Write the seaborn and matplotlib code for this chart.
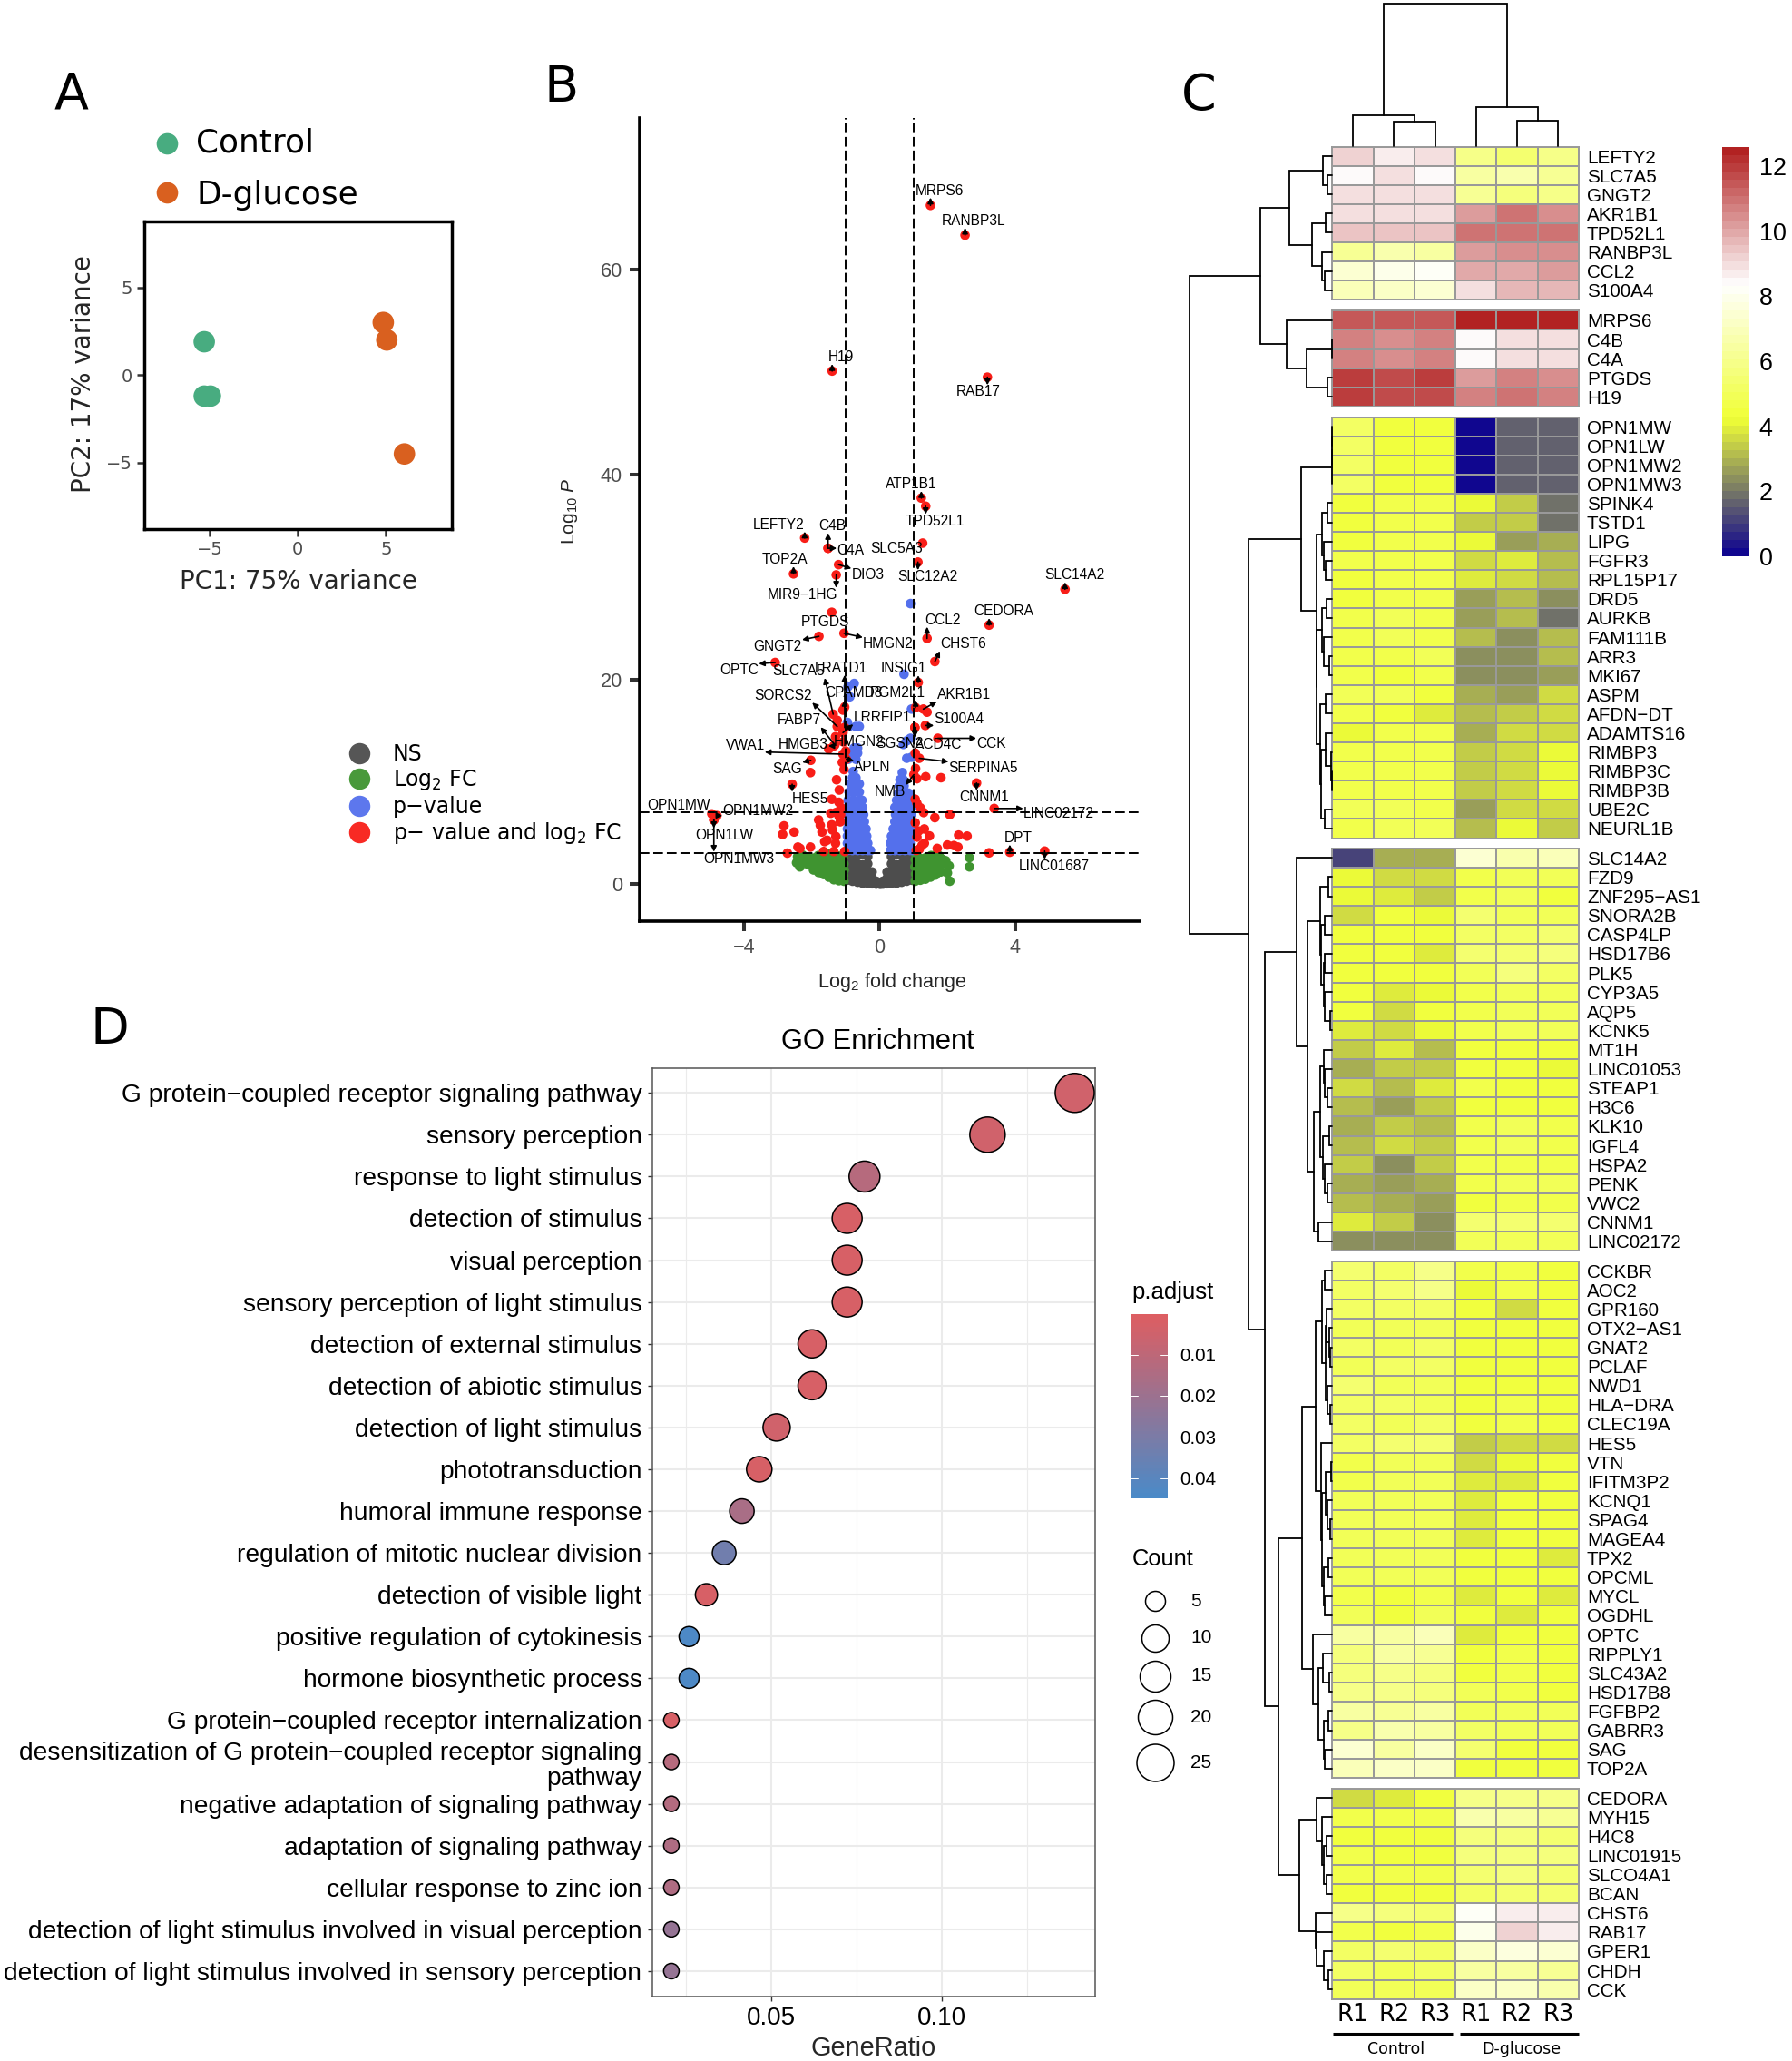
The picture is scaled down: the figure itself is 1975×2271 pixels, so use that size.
import numpy as np
import pandas as pd
import matplotlib
matplotlib.use("Agg")
import matplotlib.pyplot as plt
from matplotlib.colors import LinearSegmentedColormap
import seaborn as sns

W, H = 1975, 2271

# ---- panel A: PCA
pca_pc1 = [-5.3, -5.3, -4.95, 4.85, 5.05, 6.05]
pca_pc2 = [1.9, -1.2, -1.2, 3.0, 2.0, -4.5]
pca_group = ["Control", "Control", "Control", "D-glucose", "D-glucose", "D-glucose"]

# ---- panel B: volcano
label_name = ["MRPS6", "RANBP3L", "H19", "RAB17", "ATP1B1", "TPD52L1", "LEFTY2", "C4B", "C4A", "SLC5A3",
              "SLC12A2", "TOP2A", "DIO3", "MIR9\u22121HG", "SLC14A2", "CEDORA", "PTGDS", "CCL2", "HMGN2", "GNGT2",
              "CHST6", "OPTC", "SLC7A5", "LRATD1", "INSIG1", "SORCS2", "CPAMD8", "PGM2L1", "AKR1B1", "LRRFIP1",
              "FABP7", "S100A4", "VWA1", "HMGB3", "HMGN2", "CCK", "SGSN2", "ACD4C", "SERPINA5", "SAG",
              "APLN", "NMB", "HES5", "CNNM1", "OPN1MW", "OPN1MW2", "LINC02172", "OPN1LW", "DPT", "OPN1MW3",
              "LINC01687"]
label_fc = [1.5, 2.52, -1.4, 3.18, 1.23, 1.36, -2.21, -1.52, -1.52, 1.27,
            1.13, -2.54, -1.21, -1.28, 5.47, 3.23, -1.41, 1.4, -1.05, -1.79,
            1.63, -3.08, -1.37, -1.03, 1.14, -1.25, -1.03, 1.06, 1.29, -1.08,
            -1.32, 1.35, -1.08, -1.35, -1.0, 1.72, 1.04, 1.04, 1.17, -2.03,
            -0.98, 1.01, -2.58, 2.86, -4.95, -4.8, 3.38, -4.89, 3.84, -4.89,
            4.87]
label_p = [66.27, 63.36, 50.1, 49.5, 37.7, 36.9, 33.8, 32.8, 32.8, 33.3,
           31.45, 30.3, 31.2, 30.2, 28.8, 25.3, 26.55, 24.0, 24.5, 24.2,
           21.74, 21.65, 16.6, 17.3, 19.7, 15.4, 15.3, 17.25, 17.1, 14.8,
           13.6, 15.5, 12.7, 13.5, 13.0, 14.25, 15.3, 15.3, 12.3, 12.1,
           12.2, 10.7, 9.76, 9.88, 6.87, 6.7, 7.4, 6.28, 3.13, 6.28,
           3.24]
label_tx = [1.77, 2.78, -1.13, 2.9, 0.94, 1.62, -2.97, -1.4, -0.86, 0.49,
            1.43, -2.81, -0.35, -2.27, 5.75, 3.67, -1.6, 1.85, 0.25, -3.0,
            2.46, -4.14, -2.39, -1.14, 0.71, -2.84, -0.76, 0.53, 2.48, 0.07,
            -2.38, 2.34, -3.97, -2.25, -0.62, 3.29, 0.6, 1.73, 3.06, -2.72,
            -0.21, 0.31, -2.06, 3.09, -5.94, -3.59, 5.28, -4.59, 4.1, -4.15,
            5.14]
label_ty = [67.7, 64.76, 51.45, 48.06, 39.05, 35.45, 35.1, 34.96, 32.6, 32.8,
            30.0, 31.7, 30.16, 28.27, 30.16, 26.65, 25.6, 25.8, 23.43, 23.2,
            23.43, 20.86, 20.8, 21.1, 21.06, 18.4, 18.67, 18.67, 18.5, 16.28,
            16.0, 16.14, 13.57, 13.6, 13.86, 13.7, 13.72, 13.66, 11.3, 11.24,
            11.39, 9.03, 8.35, 8.5, 7.73, 7.17, 6.9, 4.8, 4.54, 2.5,
            1.77]

red_x = [-1.41, -1.29, -1.19, -1.27, -1.14, -1.44, -1.19, -1.41, -1.39, -1.29, -1.16, -1.03, -1.2,
         -1.8, -1.75, -1.7, -1.62, -1.55, -2.82, -2.86, -2.52, -2.72, -2.41, -2.35, -2.04, -1.65, -1.35,
         -2.04, -1.05, -1.1, -1.3, -1.5, -1.25, -1.1, -1.08, -1.07, -1.3, -1.15,
         1.36, 1.81, 1.1, 1.06, 1.05, 2.07, 1.63, 1.2, 1.3, 2.33, 2.58, 2.0, 2.19, 2.31, 1.7,
         1.32, 1.47, 1.32, 1.17, 1.05, 1.1, 1.15, 1.25, 3.23, 1.05, 1.1, 1.08, 1.4]
red_y = [8.3, 7.0, 9.2, 10.2, 7.46, 6.93, 6.58, 5.8, 5.3, 4.66, 6.1, 3.2, 8.0,
         6.28, 5.75, 5.1, 4.16, 4.3, 5.7, 4.87, 5.1, 3.04, 3.63, 3.5, 3.63, 3.2, 3.2,
         10.9, 11.2, 11.9, 14.4, 13.2, 16.0, 15.2, 17.0, 13.9, 4.0, 6.8,
         10.5, 10.4, 10.3, 11.3, 12.8, 6.8, 6.5, 7.46, 7.0, 4.8, 4.7, 3.83, 3.78, 3.63, 3.5,
         5.4, 4.72, 4.0, 3.42, 6.0, 7.9, 5.2, 3.8, 3.07, 8.3, 4.6, 3.3, 16.8]

blue_x = [-0.95, -0.8, -0.65, -0.5, -0.35, -0.27, -0.95, -0.8, -0.65, -0.5, -0.35, -0.95, -0.8, -0.65, -0.5, -0.38,
          -0.95, -0.8, -0.65, -0.5, -0.4, -0.95, -0.8, -0.65, -0.45, -0.95, -0.8, -0.65, -0.47, -0.95, -0.8, -0.65, -0.5,
          -0.93, -0.78, -0.62, -0.52, -0.9, -0.75, -0.6, -0.85, -0.7, -0.6, -0.8, -0.7, -0.78,
          -0.92, -0.7, -0.95, -0.8, -0.65, -0.75, -0.65, -0.9, -0.7, -0.6, -0.95, -0.93, -0.75, -0.88,
          0.32, 0.45, 0.6, 0.75, 0.9, 0.98, 0.32, 0.45, 0.6, 0.75, 0.9, 0.35, 0.5, 0.65, 0.8, 0.93,
          0.4, 0.55, 0.7, 0.85, 0.95, 0.45, 0.6, 0.75, 0.9, 0.47, 0.62, 0.78, 0.93, 0.45, 0.6, 0.78, 0.93,
          0.5, 0.65, 0.8, 0.93, 0.55, 0.7, 0.85, 0.58, 0.72, 0.6, 0.7, 0.67,
          0.8, 0.94, 0.7, 0.91, 0.8, 0.94, 0.72, 0.91]
blue_y = [3.3, 3.3, 3.3, 3.3, 3.3, 3.3, 4.0, 4.0, 4.0, 4.0, 4.0, 4.7, 4.7, 4.7, 4.7, 4.7,
          5.4, 5.4, 5.4, 5.4, 5.4, 6.1, 6.1, 6.1, 6.1, 6.8, 6.8, 6.8, 6.8, 7.5, 7.5, 7.5, 7.5,
          8.2, 8.2, 8.2, 8.2, 9.0, 9.0, 9.0, 9.8, 9.8, 9.8, 10.4, 10.4, 11.0,
          12.2, 12.2, 12.8, 12.8, 12.8, 13.3, 13.3, 15.4, 15.4, 15.4, 15.8, 19.3, 19.6, 18.3,
          3.3, 3.3, 3.3, 3.3, 3.3, 3.3, 4.0, 4.0, 4.0, 4.0, 4.0, 4.7, 4.7, 4.7, 4.7, 4.7,
          5.4, 5.4, 5.4, 5.4, 5.4, 6.1, 6.1, 6.1, 6.1, 6.8, 6.8, 6.8, 6.8, 7.5, 7.5, 7.5, 7.5,
          8.2, 8.2, 8.2, 8.2, 8.9, 8.9, 8.9, 9.6, 9.6, 10.2, 10.2, 10.9,
          12.3, 12.4, 13.65, 14.25, 14.0, 17.1, 20.5, 27.4]

green_x = [-1.05, -1.06, -1.04, -1.05, -1.07, -1.2, -1.22, -1.19, -1.2, -1.21, -1.35, -1.36, -1.34, -1.35, -1.37,
           -1.5, -1.52, -1.49, -1.5, -1.51, -1.65, -1.66, -1.64, -1.67, -1.8, -1.82, -1.79, -1.81, -1.95, -1.97, -1.94,
           -2.1, -2.12, -2.25, -2.27, -2.35, -2.45, -2.42,
           1.05, 1.06, 1.04, 1.05, 1.07, 1.2, 1.21, 1.19, 1.22, 1.35, 1.36, 1.34, 1.37, 1.5, 1.51, 1.49, 1.52,
           1.65, 1.66, 1.64, 1.67, 1.8, 1.82, 1.85, 2.0, 2.05, 2.07, 2.65, 2.65, 1.95, 1.75]
green_y = [0.3, 0.85, 1.4, 2.0, 2.65, 0.35, 0.9, 1.5, 2.1, 2.75, 0.45, 1.0, 1.6, 2.2, 2.8,
           0.7, 1.3, 1.9, 2.5, 2.95, 0.95, 1.5, 2.1, 2.7, 1.15, 1.7, 2.3, 2.8, 1.4, 1.9, 2.55,
           1.9, 2.6, 2.3, 2.85, 1.7, 2.1, 2.7,
           0.3, 1.0, 1.7, 2.4, 2.9, 0.4, 1.1, 1.8, 2.5, 0.5, 1.2, 1.9, 2.6, 0.7, 1.4, 2.1, 2.8,
           0.9, 1.6, 2.3, 2.9, 1.2, 1.9, 2.45, 1.1, 1.8, 0.3, 2.6, 1.7, 2.3, 2.8]

gray_x = [-0.95, -0.95, -0.95, -0.95, -0.95, -0.8, -0.8, -0.8, -0.8, -0.8, -0.65, -0.65, -0.65, -0.65, -0.65,
          -0.5, -0.5, -0.5, -0.5, -0.5, -0.35, -0.35, -0.35, -0.35, -0.35, -0.22, -0.22, -0.22, -0.1, -0.1, 0.02,
          0.1, 0.1, 0.22, 0.22, 0.22, 0.35, 0.35, 0.35, 0.35, 0.35,
          0.5, 0.5, 0.5, 0.5, 0.5, 0.65, 0.65, 0.65, 0.65, 0.65, 0.8, 0.8, 0.8, 0.8, 0.8, 0.95, 0.95, 0.95, 0.95, 0.95]
gray_y = [0.4, 1.0, 1.6, 2.2, 2.9, 0.3, 0.9, 1.5, 2.1, 2.9, 0.2, 0.8, 1.4, 2.0, 2.9,
          0.1, 0.7, 1.3, 1.9, 2.9, 0.1, 0.7, 1.3, 2.0, 2.7, 0.05, 0.6, 1.2, 0.02, 0.3, 0.0,
          0.02, 0.3, 0.05, 0.6, 1.2, 0.1, 0.7, 1.3, 2.0, 2.7,
          0.1, 0.7, 1.3, 1.9, 2.9, 0.2, 0.8, 1.4, 2.0, 2.9, 0.3, 0.9, 1.5, 2.1, 2.9, 0.4, 1.0, 1.6, 2.2, 2.9]

# ---- panel C: heatmap blocks (Control R1-3, D-glucose R1-3)
genes_1 = ["LEFTY2", "SLC7A5", "GNGT2", "AKR1B1", "TPD52L1", "RANBP3L", "CCL2", "S100A4"]
expr_1 = [[9.2, 8.6, 9.0, 6.0, 5.3, 5.9],
          [8.5, 9.0, 8.5, 6.3, 6.6, 6.1],
          [9.0, 9.0, 9.0, 6.1, 5.6, 5.9],
          [9.0, 8.9, 9.0, 10.1, 10.9, 10.5],
          [9.4, 9.5, 9.4, 10.9, 11.0, 11.0],
          [6.1, 6.8, 6.3, 10.3, 10.5, 10.5],
          [7.4, 7.9, 8.1, 10.0, 10.0, 10.2],
          [7.0, 7.1, 7.5, 9.0, 9.7, 9.6]]
genes_2 = ["MRPS6", "C4B", "C4A", "PTGDS", "H19"]
expr_2 = [[11.5, 11.5, 11.4, 12.6, 12.6, 12.6],
          [10.8, 10.5, 10.7, 8.5, 9.0, 9.0],
          [10.8, 10.5, 10.7, 8.5, 9.0, 9.0],
          [11.9, 11.7, 11.9, 10.2, 10.7, 10.5],
          [12.0, 11.8, 11.8, 10.8, 10.9, 10.7]]
genes_3 = ["OPN1MW", "OPN1LW", "OPN1MW2", "OPN1MW3", "SPINK4", "TSTD1", "LIPG", "FGFR3", "RPL15P17", "DRD5", "AURKB",
           "FAM111B", "ARR3", "MKI67", "ASPM", "AFDN\u2212DT", "ADAMTS16", "RIMBP3", "RIMBP3C", "RIMBP3B", "UBE2C", "NEURL1B"]
expr_3 = [[5.1, 4.5, 4.4, 0.0, 1.6, 1.6],
          [5.1, 4.5, 4.4, 0.0, 1.6, 1.6],
          [5.2, 4.5, 4.5, 0.0, 1.6, 1.6],
          [5.2, 4.5, 4.5, 0.0, 1.6, 1.6],
          [4.5, 4.6, 4.6, 4.2, 3.4, 2.0],
          [4.5, 4.6, 4.6, 3.35, 3.4, 2.0],
          [4.3, 4.6, 4.6, 4.1, 2.7, 3.0],
          [4.7, 4.7, 4.6, 3.6, 3.8, 3.2],
          [4.4, 4.6, 4.6, 3.9, 3.6, 3.1],
          [4.3, 4.7, 4.7, 2.6, 3.1, 2.4],
          [4.7, 4.9, 4.7, 2.6, 3.1, 1.9],
          [4.7, 4.8, 4.7, 3.1, 2.45, 3.1],
          [4.7, 4.6, 4.9, 2.45, 2.45, 3.1],
          [4.7, 4.35, 4.7, 2.4, 2.4, 2.7],
          [4.8, 4.8, 4.4, 3.0, 2.6, 3.7],
          [4.7, 4.4, 3.9, 3.1, 3.4, 3.6],
          [4.1, 4.6, 4.6, 2.9, 3.6, 3.6],
          [4.6, 4.6, 4.6, 3.4, 3.6, 4.2],
          [4.6, 4.6, 4.6, 3.4, 3.6, 4.2],
          [4.6, 4.6, 4.6, 3.4, 3.6, 4.2],
          [4.8, 4.9, 4.6, 2.7, 3.6, 3.6],
          [4.7, 4.8, 4.8, 3.1, 4.1, 3.4]]
genes_4 = ["SLC14A2", "FZD9", "ZNF295\u2212AS1", "SNORA2B", "CASP4LP", "HSD17B6", "PLK5", "CYP3A5", "AQP5", "KCNK5", "MT1H",
           "LINC01053", "STEAP1", "H3C6", "KLK10", "IGFL4", "HSPA2", "PENK", "VWC2", "CNNM1", "LINC02172"]
expr_4 = [[1.1, 3.0, 2.8, 7.4, 6.8, 6.9],
          [4.1, 3.6, 3.6, 4.7, 4.8, 4.8],
          [4.1, 3.85, 3.3, 4.7, 4.8, 4.5],
          [3.6, 4.4, 4.2, 5.4, 4.9, 5.0],
          [4.4, 4.3, 4.4, 5.2, 5.1, 5.3],
          [4.3, 4.3, 3.9, 5.3, 5.3, 5.6],
          [4.5, 4.3, 4.4, 4.9, 5.7, 5.2],
          [4.3, 3.9, 4.2, 4.7, 5.0, 5.0],
          [4.3, 3.6, 4.3, 4.7, 5.0, 5.0],
          [3.95, 3.6, 4.2, 4.7, 5.0, 5.0],
          [3.3, 3.9, 3.1, 4.4, 4.4, 4.4],
          [2.95, 3.35, 3.3, 4.5, 4.4, 4.2],
          [3.6, 3.15, 3.9, 4.6, 4.5, 4.5],
          [3.15, 2.75, 3.4, 4.5, 4.5, 4.5],
          [2.95, 3.35, 3.05, 4.6, 4.9, 4.7],
          [3.1, 3.6, 3.3, 4.6, 4.8, 4.7],
          [3.35, 2.4, 3.3, 4.7, 4.7, 4.7],
          [2.95, 2.75, 2.9, 4.6, 4.8, 4.8],
          [3.1, 2.9, 2.7, 4.5, 4.6, 4.6],
          [4.0, 3.4, 2.45, 5.4, 5.3, 5.4],
          [2.45, 2.4, 2.4, 5.0, 5.0, 5.0]]
genes_5 = ["CCKBR", "AOC2", "GPR160", "OTX2\u2212AS1", "GNAT2", "PCLAF", "NWD1", "HLA\u2212DRA", "CLEC19A", "HES5", "VTN",
           "IFITM3P2", "KCNQ1", "SPAG4", "MAGEA4", "TPX2", "OPCML", "MYCL", "OGDHL", "OPTC", "RIPPLY1", "SLC43A2",
           "HSD17B8", "FGFBP2", "GABRR3", "SAG", "TOP2A"]
expr_5 = [[5.3, 5.2, 6.0, 4.6, 4.7, 4.5],
          [5.2, 5.4, 5.8, 4.2, 4.6, 4.5],
          [5.1, 5.1, 5.1, 4.5, 3.7, 4.5],
          [4.8, 4.9, 4.9, 4.5, 4.3, 4.5],
          [5.1, 5.0, 5.1, 4.5, 4.5, 4.5],
          [5.0, 5.1, 5.1, 4.5, 4.3, 4.3],
          [5.5, 4.9, 5.0, 4.5, 4.5, 4.5],
          [5.2, 5.1, 5.0, 4.3, 4.6, 4.5],
          [5.1, 5.0, 5.1, 4.4, 4.6, 4.5],
          [5.1, 5.4, 5.3, 3.4, 3.7, 3.7],
          [4.6, 4.9, 4.9, 3.6, 4.2, 4.5],
          [4.7, 4.8, 4.9, 3.95, 3.95, 4.5],
          [4.8, 4.9, 5.0, 3.95, 4.5, 4.5],
          [5.0, 4.9, 5.0, 3.95, 4.5, 4.4],
          [5.0, 5.0, 5.0, 3.95, 4.5, 4.5],
          [5.0, 5.0, 5.0, 4.5, 4.5, 3.9],
          [5.0, 5.0, 5.0, 4.5, 4.5, 4.5],
          [4.7, 4.5, 4.7, 4.0, 4.4, 4.0],
          [4.8, 4.4, 4.8, 4.4, 4.0, 4.5],
          [6.5, 6.3, 6.9, 4.0, 4.5, 4.5],
          [5.7, 6.5, 6.2, 4.3, 4.7, 4.5],
          [5.7, 5.8, 5.6, 4.5, 4.7, 4.5],
          [6.0, 6.0, 5.6, 4.9, 4.6, 4.5],
          [6.3, 6.1, 6.5, 5.0, 4.9, 4.9],
          [6.0, 6.8, 6.3, 5.2, 4.8, 4.8],
          [7.5, 6.4, 7.1, 5.3, 4.5, 4.5],
          [7.0, 7.1, 7.2, 4.4, 4.4, 4.5]]
genes_6 = ["CEDORA", "MYH15", "H4C8", "LINC01915", "SLCO4A1", "BCAN", "CHST6", "RAB17", "GPER1", "CHDH", "CCK"]
expr_6 = [[3.7, 4.0, 4.4, 5.9, 5.9, 5.8],
          [4.7, 4.6, 4.6, 6.8, 6.3, 6.1],
          [4.5, 4.4, 4.3, 5.7, 5.6, 5.5],
          [4.7, 4.3, 4.3, 5.6, 5.7, 5.6],
          [4.7, 4.7, 4.7, 5.5, 5.6, 5.5],
          [4.4, 4.4, 4.5, 5.1, 5.5, 5.4],
          [6.0, 5.7, 5.5, 8.2, 8.7, 8.7],
          [4.6, 4.5, 4.6, 7.9, 9.1, 8.6],
          [5.2, 5.4, 5.2, 7.2, 7.7, 7.4],
          [5.2, 5.0, 5.2, 6.5, 6.4, 6.2],
          [5.0, 4.8, 4.9, 7.2, 7.2, 6.8]]
column_names = ["R1", "R2", "R3", "R1", "R2", "R3"]

# merge trees: (height, child, child)
row_tree = (157,
            (79,
             (47, (10, "LEFTY2", (5, "SLC7A5", "GNGT2")),
              (22, (7, "AKR1B1", "TPD52L1"), (11.5, "RANBP3L", (8.5, "CCL2", "S100A4")))),
             (50, "MRPS6", (28, (0.8, "C4B", "C4A"), (5, "PTGDS", "H19")))),
            (92,
             (34, (0.8, (0.6, (0.4, "OPN1MW", "OPN1LW"), "OPN1MW2"), "OPN1MW3"),
              (17.5,
               (11, (5, "SPINK4", "TSTD1"), (9, "LIPG", (7, "FGFR3", "RPL15P17"))),
               (17,
                (11, (6, "DRD5", "AURKB"), (9, "FAM111B", (3, "ARR3", "MKI67"))),
                (13, (7, "ASPM", "AFDN\u2212DT"),
                 (12, (7.5, "ADAMTS16", (1, "RIMBP3", (0.6, "RIMBP3C", "RIMBP3B"))), (8, "UBE2C", "NEURL1B")))))),
             (74,
              (39, "SLC14A2",
               (27,
                (13, (4, "FZD9", "ZNF295\u2212AS1"),
                 (12, (8, "SNORA2B", "CASP4LP"), (9, (8.5, "HSD17B6", "PLK5"), (8, "CYP3A5", (2, "AQP5", "KCNK5"))))),
                (20,
                 (13, (9, "MT1H", (8, "LINC01053", (5, "STEAP1", "H3C6"))),
                  (10, (3, "KLK10", "IGFL4"), (8, "HSPA2", (5, "PENK", "VWC2")))),
                 (15, "CNNM1", "LINC02172")))),
              (59,
               (33,
                (18,
                 (11, (8, "CCKBR", "AOC2"),
                  (7, (6, "GPR160", (3, "OTX2\u2212AS1", (2, "GNAT2", "PCLAF"))), (5, "NWD1", (2.5, "HLA\u2212DRA", "CLEC19A")))),
                 (12, "HES5",
                  (11, (7, (1.6, "VTN", "IFITM3P2"), (5, "KCNQ1", (2, "SPAG4", "MAGEA4"))),
                   (9, (4, "TPX2", "OPCML"), (8, "MYCL", "OGDHL"))))),
                (21, "OPTC",
                 (15.5, (10, "RIPPLY1", (3, "SLC43A2", "HSD17B8")),
                  (9, (4, "FGFBP2", "GABRR3"), (8, "SAG", "TOP2A"))))),
               (36,
                (17.5, "CEDORA",
                 (11.5, "MYH15", (9, (6, "H4C8", "LINC01915"), (6, "SLCO4A1", "BCAN")))),
                (18, "CHST6", (17.5, "RAB17", (9.5, "GPER1", (4, "CHDH", "CCK")))))))))
col_tree = (157, (34, 0, (26.5, 1, 2)), (43, 3, (28, 4, 5)))

# ---- panel D: GO enrichment
go_terms = ["G protein\u2212coupled receptor signaling pathway", "sensory perception", "response to light stimulus",
            "detection of stimulus", "visual perception", "sensory perception of light stimulus",
            "detection of external stimulus", "detection of abiotic stimulus", "detection of light stimulus",
            "phototransduction", "humoral immune response", "regulation of mitotic nuclear division",
            "detection of visible light", "positive regulation of cytokinesis", "hormone biosynthetic process",
            "G protein\u2212coupled receptor internalization",
            "desensitization of G protein\u2212coupled receptor signaling\npathway",
            "negative adaptation of signaling pathway", "adaptation of signaling pathway",
            "cellular response to zinc ion", "detection of light stimulus involved in visual perception",
            "detection of light stimulus involved in sensory perception"]
go_count = [27, 22, 15, 14, 14, 14, 12, 12, 10, 9, 8, 7, 6, 5, 5, 4, 4, 4, 4, 4, 4, 4]
go_ratio = [0.139, 0.1134, 0.0773, 0.0722, 0.0722, 0.0722, 0.0619, 0.0619, 0.0515, 0.0464, 0.0413, 0.0361, 0.0309,
            0.0258, 0.0258, 0.0206, 0.0206, 0.0206, 0.0206, 0.0206, 0.0206, 0.0206]
go_padj = [0.004, 0.004, 0.012, 0.002, 0.002, 0.002, 0.002, 0.002, 0.004, 0.002, 0.016, 0.033, 0.002,
           0.044, 0.044, 0.002, 0.012, 0.013, 0.014, 0.014, 0.022, 0.022]
count_diameter_px = {4: 17, 5: 22, 6: 24.4, 7: 26, 8: 27, 9: 28, 10: 30, 12: 31, 14: 33, 15: 34, 20: 38, 22: 39, 25: 41, 27: 43}
legend_counts = [5, 10, 15, 20, 25]

sns.set_theme(style="white")
plt.rcParams["font.family"] = ["Liberation Sans", "DejaVu Sans"]
plt.rcParams["mathtext.fontset"] = "custom"
plt.rcParams["mathtext.rm"] = "Liberation Sans"
plt.rcParams["mathtext.it"] = "Liberation Sans:italic"
plt.rcParams["axes.unicode_minus"] = True

fig = plt.figure(figsize=(W / 100, H / 100), dpi=100)


def px_axes(left, top, right, bottom):
    return fig.add_axes([left / W, 1 - bottom / H, (right - left) / W, (bottom - top) / H])


def label_at(axis, px, py):
    axis.set_label_coords(px / W, 1 - py / H, transform=fig.transFigure)
    axis.label.set_va("center")


# full-figure layer in pixels for letters, dendrograms and hand-made legends
ov = fig.add_axes([0, 0, 1, 1], zorder=5)
ov.set_xlim(0, W)
ov.set_ylim(H, 0)
ov.axis("off")

for letter, lx, ly in [("A", 79, 105), ("B", 619, 97), ("C", 1321, 106), ("D", 121, 1135)]:
    ov.text(lx, ly, letter, fontsize=40, family="DejaVu Sans", ha="center", va="center", color="black")

# --- A
pca_colors = {"Control": "#48AC80", "D-glucose": "#D9601F"}
ax_a = px_axes(159, 244, 498, 582.5)
pca_df = pd.DataFrame({"PC1": pca_pc1, "PC2": pca_pc2, "group": pca_group})
sns.scatterplot(data=pca_df, x="PC1", y="PC2", hue="group", palette=pca_colors, s=290, linewidth=0, legend=False, ax=ax_a)
ax_a.set_xlim(-8.7, 8.74)
ax_a.set_ylim(-8.76, 8.76)
ax_a.set_xticks([-5, 0, 5])
ax_a.set_yticks([-5, 0, 5])
for sp in ax_a.spines.values():
    sp.set_linewidth(2.5)
    sp.set_color("black")
ax_a.tick_params(length=5.5, width=1.8, color="#333333", labelcolor="#4D4D4D", labelsize=14, pad=4, bottom=True, left=True)
for t in ax_a.get_xticklabels() + ax_a.get_yticklabels():
    t.set_family("DejaVu Sans")
ax_a.set_xlabel("PC1: 75% variance", fontsize=20, family="DejaVu Sans")
ax_a.set_ylabel("PC2: 17% variance", fontsize=20, family="DejaVu Sans")
label_at(ax_a.xaxis, 328.6, 640.7)
label_at(ax_a.yaxis, 92, 412)
for name, ly, ty in zip(pca_colors, [158, 212], [158, 215]):
    ov.scatter([183.5], [ly], s=290, color=pca_colors[name], linewidth=0)
    ov.text(216.5, ty, name, fontsize=25.8, family="DejaVu Sans", va="center", color="black")

# --- B
volcano_colors = {"NS": "#4D4D4D", "FC": "#3F9430", "P": "#5470EC", "both": "#F81E18"}
ax_b = px_axes(705.3, 130, 1256, 1015)
volcano_df = pd.DataFrame({
    "fc": gray_x + green_x + blue_x + red_x + label_fc,
    "p": gray_y + green_y + blue_y + red_y + label_p,
    "kind": ["NS"] * len(gray_x) + ["FC"] * len(green_x) + ["P"] * len(blue_x) + ["both"] * (len(red_x) + len(label_fc)),
})
sns.scatterplot(data=volcano_df, x="fc", y="p", hue="kind", palette=volcano_colors, s=58, linewidth=0, legend=False, ax=ax_b)
ax_b.set_xlim(-7.07, 7.67)
ax_b.set_ylim(-3.6, 74.8)
ax_b.set_xticks([-4, 0, 4])
ax_b.set_yticks([0, 20, 40, 60])
sns.despine(ax=ax_b)
for side in ["left", "bottom"]:
    ax_b.spines[side].set_linewidth(2.6)
    ax_b.spines[side].set_color("black")
ax_b.tick_params(length=8, width=2.9, color="#333333", labelcolor="#4D4D4D", labelsize=15.6, pad=6, bottom=True, left=True)
dash = (0, (5.5, 2.2))
for xv in [-1, 1]:
    ax_b.axvline(xv, color="black", lw=1.4, ls=dash)
for yv in [3, 7]:
    ax_b.axhline(yv, color="black", lw=1.4, ls=dash)
ax_b.set_xlabel("Log$_{2}$ fold change", fontsize=15.6)
ax_b.set_ylabel("Log$_{10}$ $\\mathit{P}$", fontsize=15)
label_at(ax_b.xaxis, 983, 1082)
label_at(ax_b.yaxis, 628, 563)

# repel style labels: arrow from point to the nearest edge of the text box
renderer = fig.canvas.get_renderer()
to_data = ax_b.transData.inverted()
for name, fc, p, tx, ty in zip(label_name, label_fc, label_p, label_tx, label_ty):
    txt = ax_b.text(tx, ty, name, fontsize=11.2, ha="center", va="center", color="black", zorder=6)
    box = txt.get_window_extent(renderer)
    (x0, y0), (x1, y1) = to_data.transform([[box.x0, box.y0], [box.x1, box.y1]])
    ex, ey = np.clip(fc, x0, x1), np.clip(p, y0, y1)
    if abs(ex - fc) * 37.4 + abs(ey - p) * 11.3 > 6:
        ax_b.annotate("", xy=(ex, ey), xytext=(fc, p), zorder=5,
                      arrowprops=dict(arrowstyle="-|>", color="black", lw=1.2, shrinkA=0, shrinkB=0, mutation_scale=9))

legend_rows = [("NS", "NS", 829.6), ("FC", "Log$_{2}$ FC", 858.4), ("P", "p\u2212value", 888),
               ("both", "p\u2212 value and log$_{2}$ FC", 917)]
for key, text, ly in legend_rows:
    ov.scatter([396], [ly], s=285, color=volcano_colors[key], linewidth=0, alpha=0.95)
    ov.text(433, ly + 1, text, fontsize=17, family="DejaVu Sans", math_fontfamily="dejavusans", va="center", color="black")

# --- C
heat_cmap = LinearSegmentedColormap.from_list("pheat", ["#10068F", "#F0FF36", "#FFFFFF", "#B22222"], N=50)
blocks = [(genes_1, expr_1, 161.6, 330.3), (genes_2, expr_2, 342.4, 447.8), (genes_3, expr_3, 459.5, 923.5),
          (genes_4, expr_4, 934.7, 1378.3), (genes_5, expr_5, 1389.6, 1959.3), (genes_6, expr_6, 1970.7, 2202.7)]
hm_left, hm_right = 1468.4, 1739.9
cax = px_axes(1897.5, 161.6, 1927.6, 613)
row_pos = {}
for i, (genes, expr, top, bottom) in enumerate(blocks):
    ax_h = px_axes(hm_left, top, hm_right, bottom)
    sns.heatmap(pd.DataFrame(expr, index=genes), ax=ax_h, cmap=heat_cmap, vmin=0, vmax=12.6,
                linewidths=1.2, linecolor="#999999", xticklabels=False, yticklabels=True,
                cbar=i == 0, cbar_ax=cax if i == 0 else None)
    ax_h.yaxis.tick_right()
    ax_h.tick_params(axis="y", length=0, labelsize=14.9, pad=6.5, labelrotation=0, colors="black")
    ax_h.set_xlabel("")
    ax_h.set_ylabel("")
    for sp in ax_h.spines.values():
        sp.set_visible(True)
        sp.set_color("#999999")
        sp.set_linewidth(1.4)
    step = (bottom - top) / len(genes)
    for k, g in enumerate(genes):
        row_pos[g] = top + (k + 0.5) * step

cax.set_yticks([0, 2, 4, 6, 8, 10, 12])
cax.tick_params(length=0, labelsize=19.4, pad=8, colors="black")
cax.collections[0].set_edgecolor("face")
for sp in cax.spines.values():
    sp.set_visible(False)


def draw_row_tree(node):
    if isinstance(node, str):
        return row_pos[node], 0
    h, a, b = node
    ya, ha = draw_row_tree(a)
    yb, hb = draw_row_tree(b)
    x = hm_left - h
    ov.plot([hm_left - ha, x, x, hm_left - hb], [ya, ya, yb, yb], color="black", lw=1.3, solid_joinstyle="miter")
    return (ya + yb) / 2, h


col_step = (hm_right - hm_left) / 6
tree_base = 160.8


def draw_col_tree(node):
    if not isinstance(node, tuple):
        return hm_left + (node + 0.5) * col_step, 0
    h, a, b = node
    xa, ha = draw_col_tree(a)
    xb, hb = draw_col_tree(b)
    y = tree_base - h
    ov.plot([xa, xa, xb, xb], [tree_base - ha, y, y, tree_base - hb], color="black", lw=1.3, solid_joinstyle="miter")
    return (xa + xb) / 2, h


draw_row_tree(row_tree)
draw_col_tree(col_tree)

for k, name in enumerate(column_names):
    ov.text(hm_left + (k + 0.5) * col_step, 2220, name, fontsize=18.5, family="DejaVu Sans", ha="center", va="center", color="black")
ov.plot([1469, 1601], [2240.7, 2240.7], color="black", lw=2.2, solid_capstyle="butt")
ov.plot([1608.6, 1740], [2240.7, 2240.7], color="black", lw=2.2, solid_capstyle="butt")
ov.text(1539, 2258, "Control", fontsize=12.5, family="DejaVu Sans", ha="center", va="center", color="black")
ov.text(1677, 2258, "D-glucose", fontsize=12.5, family="DejaVu Sans", ha="center", va="center", color="black")

# --- D
go_cmap = LinearSegmentedColormap.from_list("padj", ["#DD5E62", "#4A8AC8"])
ax_d = px_axes(718.5, 1176.6, 1207, 2199.6)
go_df = pd.DataFrame({"term": go_terms, "ratio": go_ratio, "count": go_count, "padj": go_padj})
ax_d.set_axisbelow(True)
sns.scatterplot(data=go_df, x="ratio", y="term", hue="padj", palette=go_cmap, hue_norm=(0, 0.045),
                size="count", sizes={c: (d * 0.72) ** 2 for c, d in count_diameter_px.items() if c in go_count},
                edgecolor="black", linewidth=1.1, legend=False, ax=ax_d, zorder=3)
ax_d.set_xlim(0.0149, 0.145)
ax_d.set_ylim(21.6, -0.6)
ax_d.set_xticks([0.05, 0.10])
ax_d.set_xticklabels(["0.05", "0.10"])
ax_d.set_xticks([0.025, 0.075, 0.125], minor=True)
ax_d.grid(which="major", color="#EBEBEB", lw=1.5)
ax_d.grid(which="minor", axis="x", color="#EBEBEB", lw=0.8)
for sp in ax_d.spines.values():
    sp.set_color("#555555")
    sp.set_linewidth(1.1)
ax_d.tick_params(which="major", length=3.5, width=1, color="#333333", labelcolor="black", pad=4.5, bottom=True, left=True)
ax_d.tick_params(axis="x", which="major", labelsize=20)
ax_d.tick_params(axis="y", which="major", labelsize=20.25)
ax_d.tick_params(which="minor", length=0)
for t in ax_d.get_yticklabels():
    t.set_linespacing(1.1)
ax_d.set_xlabel("GeneRatio", fontsize=20.8)
ax_d.set_ylabel("")
label_at(ax_d.xaxis, 962.6, 2257)
ov.text(967, 1148, "GO Enrichment", fontsize=22.2, ha="center", va="center", color="black")

ax_cb = px_axes(1246, 1448, 1287, 1651.4)
sns.heatmap(np.linspace(0, 0.045, 60).reshape(-1, 1), ax=ax_cb, cmap=go_cmap, vmin=0, vmax=0.045, cbar=False,
            xticklabels=False, yticklabels=False)
for v in [0.01, 0.02, 0.03, 0.04]:
    yy = v / 0.045 * 60
    ax_cb.plot([0, 0.2], [yy, yy], color="white", lw=0.7)
    ax_cb.plot([0.8, 1], [yy, yy], color="white", lw=0.7)
    ov.text(1300, 1449.5 + v / 0.045 * 203.4, "%.2f" % v, fontsize=14.8, va="center", color="black")
ov.text(1247.5, 1424, "p.adjust", fontsize=18.5, va="center", color="black")
ov.text(1247.5, 1718, "Count", fontsize=18.4, va="center", color="black")
for c, ly in zip(legend_counts, [1764, 1804.7, 1846.6, 1892, 1942]):
    ov.scatter([1273], [ly], s=(count_diameter_px[c] * 0.72) ** 2, facecolor="white", edgecolor="black", linewidth=1.1)
    ov.text(1312, ly, str(c), fontsize=15, va="center", color="black")

fig.savefig("out.png", dpi=100, facecolor="white")
